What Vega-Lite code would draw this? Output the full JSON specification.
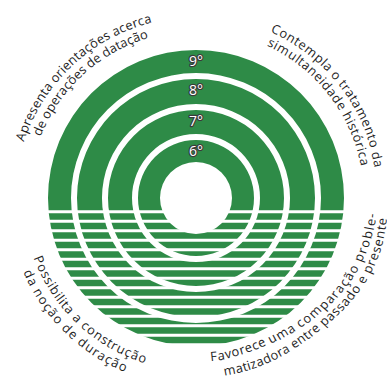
{
  "$schema": "https://vega.github.io/schema/vega-lite/v6.json",
  "width": 387,
  "height": 386,
  "padding": 0,
  "autosize": "none",
  "background": "white",
  "config": {"view": {"stroke": null}},
  "datasets": {
    "rings": [
      {"label": "6°", "r0": 36, "r1": 58},
      {"label": "7°", "r0": 64, "r1": 88},
      {"label": "8°", "r0": 94, "r1": 119},
      {"label": "9°", "r0": 125, "r1": 148}
    ],
    "stripes": [
      {"x1": -160, "x2": 160, "y1": -12.2, "y2": -15.2},
      {"x1": -160, "x2": 160, "y1": -21.7, "y2": -24.7},
      {"x1": -160, "x2": 160, "y1": -31.2, "y2": -34.2},
      {"x1": -160, "x2": 160, "y1": -40.7, "y2": -43.7},
      {"x1": -160, "x2": 160, "y1": -50.2, "y2": -53.2},
      {"x1": -160, "x2": 160, "y1": -59.7, "y2": -62.7},
      {"x1": -160, "x2": 160, "y1": -69.2, "y2": -72.2},
      {"x1": -160, "x2": 160, "y1": -78.7, "y2": -81.7},
      {"x1": -160, "x2": 160, "y1": -88.2, "y2": -91.2},
      {"x1": -160, "x2": 160, "y1": -97.7, "y2": -100.7},
      {"x1": -160, "x2": 160, "y1": -107.2, "y2": -110.2},
      {"x1": -160, "x2": 160, "y1": -116.7, "y2": -119.7},
      {"x1": -160, "x2": 160, "y1": -126.2, "y2": -129.2},
      {"x1": -160, "x2": 160, "y1": -135.7, "y2": -138.7},
      {"x1": -160, "x2": 160, "y1": -145.2, "y2": -152}
    ],
    "top": [
      {"ch": "A", "t": -70.67, "r": 185}, {"ch": "p", "t": -68.06, "r": 185}, {"ch": "r", "t": -65.92, "r": 185}, {"ch": "e", "t": -63.89, "r": 185}, {"ch": "s", "t": -61.71, "r": 185}, {"ch": "e", "t": -59.54, "r": 185}, {"ch": "n", "t": -57.08, "r": 185}, {"ch": "t", "t": -55.05, "r": 185}, {"ch": "a", "t": -53.14, "r": 185},
      {"ch": "o", "t": -49.62, "r": 185}, {"ch": "r", "t": -47.50, "r": 185}, {"ch": "i", "t": -46.11, "r": 185}, {"ch": "e", "t": -44.41, "r": 185}, {"ch": "n", "t": -41.95, "r": 185}, {"ch": "t", "t": -39.92, "r": 185}, {"ch": "a", "t": -38.01, "r": 185}, {"ch": "ç", "t": -35.82, "r": 185}, {"ch": "õ", "t": -33.53, "r": 185}, {"ch": "e", "t": -31.09, "r": 185}, {"ch": "s", "t": -28.91, "r": 185},
      {"ch": "a", "t": -25.66, "r": 185}, {"ch": "c", "t": -23.47, "r": 185}, {"ch": "e", "t": -21.27, "r": 185}, {"ch": "r", "t": -19.24, "r": 185}, {"ch": "c", "t": -17.36, "r": 185}, {"ch": "a", "t": -15.17, "r": 185},
      {"ch": "d", "t": -67.14, "r": 171}, {"ch": "e", "t": -64.54, "r": 171},
      {"ch": "o", "t": -60.80, "r": 171}, {"ch": "p", "t": -58.11, "r": 171}, {"ch": "e", "t": -55.50, "r": 171}, {"ch": "r", "t": -53.35, "r": 171}, {"ch": "a", "t": -51.22, "r": 171}, {"ch": "ç", "t": -48.90, "r": 171}, {"ch": "õ", "t": -46.48, "r": 171}, {"ch": "e", "t": -43.89, "r": 171}, {"ch": "s", "t": -41.59, "r": 171},
      {"ch": "d", "t": -38.02, "r": 171}, {"ch": "e", "t": -35.42, "r": 171},
      {"ch": "d", "t": -31.67, "r": 171}, {"ch": "a", "t": -29.08, "r": 171}, {"ch": "t", "t": -27.06, "r": 171}, {"ch": "a", "t": -25.04, "r": 171}, {"ch": "ç", "t": -22.73, "r": 171}, {"ch": "ã", "t": -20.41, "r": 171}, {"ch": "o", "t": -17.84, "r": 171},
      {"ch": "C", "t": 25.38, "r": 186}, {"ch": "o", "t": 28.07, "r": 186}, {"ch": "n", "t": 30.72, "r": 186}, {"ch": "t", "t": 32.83, "r": 186}, {"ch": "e", "t": 34.83, "r": 186}, {"ch": "m", "t": 38.08, "r": 186}, {"ch": "p", "t": 41.44, "r": 186}, {"ch": "l", "t": 43.33, "r": 186}, {"ch": "a", "t": 45.09, "r": 186},
      {"ch": "o", "t": 48.76, "r": 186},
      {"ch": "t", "t": 51.98, "r": 186}, {"ch": "r", "t": 53.64, "r": 186}, {"ch": "a", "t": 55.74, "r": 186}, {"ch": "t", "t": 57.72, "r": 186}, {"ch": "a", "t": 59.70, "r": 186}, {"ch": "m", "t": 62.94, "r": 186}, {"ch": "e", "t": 66.19, "r": 186}, {"ch": "n", "t": 68.76, "r": 186}, {"ch": "t", "t": 70.86, "r": 185.5}, {"ch": "o", "t": 72.95, "r": 185.5},
      {"ch": "d", "t": 76.74, "r": 185}, {"ch": "a", "t": 79.29, "r": 185},
      {"ch": "s", "t": 25.93, "r": 172}, {"ch": "i", "t": 27.66, "r": 172}, {"ch": "m", "t": 30.47, "r": 172}, {"ch": "u", "t": 34.13, "r": 172}, {"ch": "l", "t": 36.18, "r": 172}, {"ch": "t", "t": 37.62, "r": 172}, {"ch": "a", "t": 39.77, "r": 172}, {"ch": "n", "t": 42.55, "r": 172}, {"ch": "e", "t": 45.33, "r": 172}, {"ch": "i", "t": 47.26, "r": 172}, {"ch": "d", "t": 49.31, "r": 172}, {"ch": "a", "t": 52.09, "r": 172}, {"ch": "d", "t": 54.86, "r": 172}, {"ch": "e", "t": 57.64, "r": 172},
      {"ch": "h", "t": 61.66, "r": 172}, {"ch": "i", "t": 63.71, "r": 172}, {"ch": "s", "t": 65.44, "r": 172}, {"ch": "t", "t": 67.41, "r": 172}, {"ch": "ó", "t": 69.68, "r": 172}, {"ch": "r", "t": 72.08, "r": 172}, {"ch": "i", "t": 73.65, "r": 172}, {"ch": "c", "t": 75.40, "r": 172}, {"ch": "a", "t": 77.88, "r": 172}
    ],
    "bottom": [
      {"ch": "P", "t": 248.54, "r": 169}, {"ch": "o", "t": 245.63, "r": 169}, {"ch": "s", "t": 243.02, "r": 169}, {"ch": "s", "t": 240.72, "r": 169}, {"ch": "i", "t": 238.96, "r": 169}, {"ch": "b", "t": 236.87, "r": 169}, {"ch": "i", "t": 234.78, "r": 169}, {"ch": "l", "t": 233.56, "r": 169}, {"ch": "i", "t": 232.33, "r": 169}, {"ch": "t", "t": 230.87, "r": 169}, {"ch": "a", "t": 228.68, "r": 169},
      {"ch": "a", "t": 224.74, "r": 169},
      {"ch": "c", "t": 220.96, "r": 169}, {"ch": "o", "t": 218.32, "r": 169}, {"ch": "n", "t": 215.38, "r": 169}, {"ch": "s", "t": 212.75, "r": 169}, {"ch": "t", "t": 210.75, "r": 169}, {"ch": "r", "t": 208.91, "r": 169}, {"ch": "u", "t": 206.44, "r": 169}, {"ch": "ç", "t": 203.78, "r": 169}, {"ch": "ã", "t": 201.26, "r": 169}, {"ch": "o", "t": 198.46, "r": 169},
      {"ch": "d", "t": 245.60, "r": 184}, {"ch": "a", "t": 242.92, "r": 184},
      {"ch": "n", "t": 239.05, "r": 184}, {"ch": "o", "t": 236.26, "r": 184}, {"ch": "ç", "t": 233.76, "r": 184}, {"ch": "ã", "t": 231.37, "r": 184}, {"ch": "o", "t": 228.72, "r": 184},
      {"ch": "d", "t": 224.74, "r": 184}, {"ch": "e", "t": 222.05, "r": 184},
      {"ch": "d", "t": 218.18, "r": 184}, {"ch": "u", "t": 215.37, "r": 184}, {"ch": "r", "t": 213.03, "r": 184}, {"ch": "a", "t": 210.82, "r": 184}, {"ch": "ç", "t": 208.43, "r": 184}, {"ch": "ã", "t": 206.04, "r": 184}, {"ch": "o", "t": 203.38, "r": 184},
      {"ch": "F", "t": 173.68, "r": 160}, {"ch": "a", "t": 170.98, "r": 160}, {"ch": "v", "t": 168.39, "r": 159.5}, {"ch": "o", "t": 165.67, "r": 159}, {"ch": "r", "t": 163.19, "r": 159}, {"ch": "e", "t": 160.80, "r": 159}, {"ch": "c", "t": 158.22, "r": 159}, {"ch": "e", "t": 155.64, "r": 159},
      {"ch": "u", "t": 151.48, "r": 160}, {"ch": "m", "t": 147.69, "r": 161}, {"ch": "a", "t": 144.03, "r": 162},
      {"ch": "c", "t": 140.19, "r": 163}, {"ch": "o", "t": 137.50, "r": 164}, {"ch": "m", "t": 133.73, "r": 165}, {"ch": "p", "t": 129.94, "r": 167}, {"ch": "a", "t": 127.07, "r": 168}, {"ch": "r", "t": 124.70, "r": 169}, {"ch": "a", "t": 122.33, "r": 170}, {"ch": "ç", "t": 119.76, "r": 171}, {"ch": "ã", "t": 117.19, "r": 172}, {"ch": "o", "t": 114.34, "r": 173},
      {"ch": "p", "t": 110.08, "r": 174}, {"ch": "r", "t": 107.57, "r": 175}, {"ch": "o", "t": 105.08, "r": 175.5}, {"ch": "b", "t": 102.09, "r": 176}, {"ch": "l", "t": 99.96, "r": 176.5}, {"ch": "e", "t": 97.96, "r": 177}, {"ch": "-", "t": 95.79, "r": 177},
      {"ch": "m", "t": 169.00, "r": 176}, {"ch": "a", "t": 165.81, "r": 176}, {"ch": "t", "t": 163.85, "r": 176}, {"ch": "i", "t": 162.55, "r": 176}, {"ch": "z", "t": 160.98, "r": 176}, {"ch": "a", "t": 158.76, "r": 176}, {"ch": "d", "t": 156.25, "r": 176}, {"ch": "o", "t": 153.63, "r": 176}, {"ch": "r", "t": 151.46, "r": 176}, {"ch": "a", "t": 149.39, "r": 176},
      {"ch": "e", "t": 145.87, "r": 176}, {"ch": "n", "t": 143.34, "r": 176}, {"ch": "t", "t": 141.27, "r": 176.5}, {"ch": "r", "t": 139.63, "r": 177}, {"ch": "e", "t": 137.55, "r": 177},
      {"ch": "p", "t": 133.91, "r": 178}, {"ch": "a", "t": 131.39, "r": 179}, {"ch": "s", "t": 129.17, "r": 180}, {"ch": "s", "t": 127.12, "r": 181}, {"ch": "a", "t": 124.90, "r": 182}, {"ch": "d", "t": 122.39, "r": 183}, {"ch": "o", "t": 119.77, "r": 184},
      {"ch": "e", "t": 116.15, "r": 185.5},
      {"ch": "p", "t": 112.51, "r": 186.5}, {"ch": "r", "t": 110.32, "r": 187}, {"ch": "e", "t": 108.24, "r": 187.5}, {"ch": "s", "t": 106.00, "r": 188}, {"ch": "e", "t": 103.77, "r": 188}, {"ch": "n", "t": 101.25, "r": 188}, {"ch": "t", "t": 99.17, "r": 188}, {"ch": "e", "t": 97.21, "r": 188}
    ]
  },
  "resolve": {"scale": {"angle": "independent"}},
  "layer": [
    {
      "data": {"name": "rings"},
      "mark": {"type": "arc", "color": "#2e8b47"},
      "encoding": {
        "x": {"datum": 0, "type": "quantitative", "scale": {"domain": [-196, 191], "nice": false, "zero": false}, "axis": null},
        "y": {"datum": 0, "type": "quantitative", "scale": {"domain": [-188, 198], "nice": false, "zero": false}, "axis": null},
        "theta": {"datum": 0, "type": "quantitative", "scale": {"type": "linear", "domain": [0, 360], "range": [0, 6.283185307179586], "zero": false}},
        "theta2": {"datum": 360},
        "radius": {"field": "r0", "type": "quantitative", "scale": {"type": "linear", "domain": [0, 200], "range": [0, 200], "zero": false}},
        "radius2": {"field": "r1"}
      }
    },
    {
      "data": {"name": "stripes"},
      "mark": {"type": "rect", "color": "white"},
      "encoding": {
        "x": {"field": "x1", "type": "quantitative", "scale": {"domain": [-196, 191], "nice": false, "zero": false}, "axis": null},
        "x2": {"field": "x2"},
        "y": {"field": "y1", "type": "quantitative", "scale": {"domain": [-188, 198], "nice": false, "zero": false}, "axis": null},
        "y2": {"field": "y2"}
      }
    },
    {
      "data": {"name": "rings"},
      "mark": {"type": "text", "font": "Open Sans", "fontSize": 14, "fill": "#3a3a3a", "stroke": "#3a3a3a", "strokeWidth": 2.4, "strokeJoin": "round", "align": "center", "baseline": "middle", "dy": 11.5},
      "encoding": {
        "x": {"datum": 0, "type": "quantitative"},
        "y": {"datum": 0, "type": "quantitative"},
        "theta": {"datum": 0, "type": "quantitative"},
        "radius": {"field": "r1", "type": "quantitative"},
        "text": {"field": "label"}
      }
    },
    {
      "data": {"name": "rings"},
      "mark": {"type": "text", "font": "Open Sans", "fontSize": 14, "fill": "white", "align": "center", "baseline": "middle", "dy": 11.5},
      "encoding": {
        "x": {"datum": 0, "type": "quantitative"},
        "y": {"datum": 0, "type": "quantitative"},
        "theta": {"datum": 0, "type": "quantitative"},
        "radius": {"field": "r1", "type": "quantitative"},
        "text": {"field": "label"}
      }
    },
    {
      "data": {"name": "top"},
      "mark": {"type": "text", "font": "Open Sans", "fontSize": 12.8, "color": "#1e1e1e", "align": "center", "baseline": "middle"},
      "encoding": {
        "x": {"datum": 0, "type": "quantitative"},
        "y": {"datum": 0, "type": "quantitative"},
        "theta": {"field": "t", "type": "quantitative"},
        "radius": {"field": "r", "type": "quantitative"},
        "angle": {"field": "t", "type": "quantitative", "scale": {"domain": [0, 360], "range": [0, 360]}},
        "text": {"field": "ch"}
      }
    },
    {
      "data": {"name": "bottom"},
      "mark": {"type": "text", "font": "Open Sans", "fontSize": 12.8, "color": "#1e1e1e", "align": "center", "baseline": "middle"},
      "encoding": {
        "x": {"datum": 0, "type": "quantitative"},
        "y": {"datum": 0, "type": "quantitative"},
        "theta": {"field": "t", "type": "quantitative"},
        "radius": {"field": "r", "type": "quantitative"},
        "angle": {"field": "t", "type": "quantitative", "scale": {"domain": [180, 360], "range": [0, 180]}},
        "text": {"field": "ch"}
      }
    }
  ]
}
